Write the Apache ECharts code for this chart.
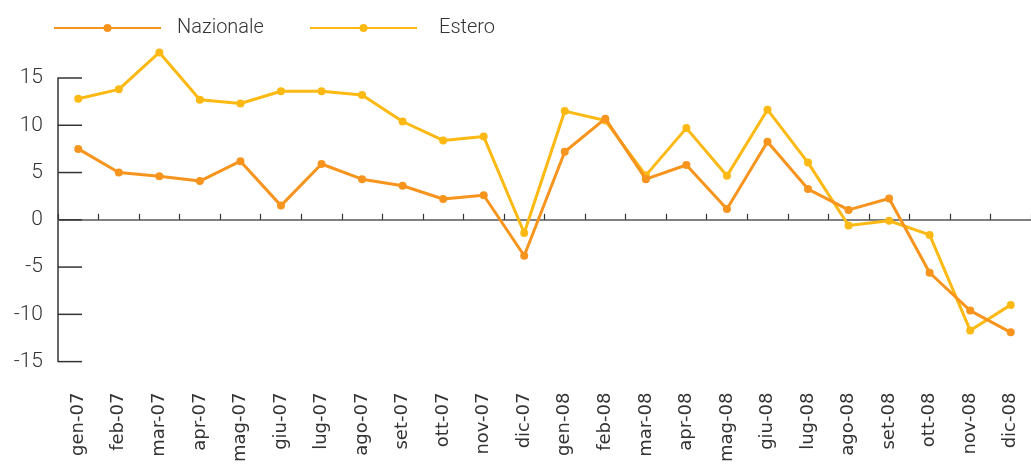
<!DOCTYPE html>
<html>
<head>
<meta charset="utf-8">
<script src="https://cdn.jsdelivr.net/npm/echarts@6/dist/echarts.min.js"></script>
<style>
  html, body { margin: 0; padding: 0; background: #fff; }
  #chart { width: 1031px; height: 465px; }
</style>
</head>
<body>
<div id="chart"></div>
<script>
const months = ['gen-07','feb-07','mar-07','apr-07','mag-07','giu-07','lug-07','ago-07','set-07','ott-07','nov-07','dic-07',
                'gen-08','feb-08','mar-08','apr-08','mag-08','giu-08','lug-08','ago-08','set-08','ott-08','nov-08','dic-08'];
const nazionale = [7.5, 5.0, 4.6, 4.1, 6.2, 1.5, 5.9, 4.3, 3.6, 2.2, 2.6, -3.8,
                   7.2, 10.7, 4.3, 5.8, 1.15, 8.25, 3.25, 1.05, 2.25, -5.6, -9.6, -11.9];
const estero = [12.8, 13.8, 17.7, 12.7, 12.3, 13.6, 13.6, 13.2, 10.4, 8.4, 8.8, -1.4,
                11.5, 10.5, 4.7, 9.7, 4.65, 11.65, 6.05, -0.6, -0.1, -1.6, -11.7, -9.0];
const yTickValues = [-15, -10, -5, 0, 5, 10, 15];

const chart = echarts.init(document.getElementById('chart'));
const orange = '#f7941d';
const yellow = '#fdb913';
const textFont = { fontFamily: 'Roboto', fontWeight: 300, color: '#333' };

const option = {
  animation: false,
  legend: [
    {
      left: 53, top: 18, padding: 0,
      itemWidth: 107, itemHeight: 10,
      data: ['Nazionale'],
      textStyle: Object.assign({ fontSize: 20, padding: [0, 0, 0, 11] }, textFont)
    },
    {
      left: 309, top: 18, padding: 0,
      itemWidth: 107, itemHeight: 10,
      data: ['Estero'],
      textStyle: Object.assign({ fontSize: 20, padding: [0, 0, 0, 17] }, textFont)
    }
  ],
  grid: { left: 58, top: 78, width: 984, height: 286 },
  xAxis: [
    {
      type: 'category',
      data: months,
      position: 'bottom',
      axisLine: { onZero: true, lineStyle: { color: '#808080', width: 2 } },
      axisTick: { show: true, inside: true, length: 6, interval: 0, lineStyle: { color: '#333', width: 1.2 } },
      axisLabel: { show: false }
    },
    {
      // month labels sit under the plot, not on the zero line
      type: 'category',
      data: months,
      position: 'bottom',
      axisLine: { show: false, onZero: false },
      axisTick: { show: false },
      axisLabel: {
        rotate: 90, interval: 0, margin: 31,
        fontFamily: 'DejaVu Sans', fontSize: 18, color: '#333'
      }
    }
  ],
  yAxis: {
    type: 'value',
    position: 'left',
    min: yTickValues[0], max: yTickValues[yTickValues.length - 1], interval: 5,
    axisLine: { show: true, onZero: false, lineStyle: { color: '#333', width: 1.5 } },
    axisTick: { show: false },
    splitLine: { show: false },
    axisLabel: Object.assign({ fontSize: 21, margin: 15 }, textFont)
  },
  series: [
    {
      name: 'Nazionale',
      type: 'line',
      data: nazionale,
      clip: false,
      symbol: 'circle', symbolSize: 8,
      itemStyle: { color: orange },
      lineStyle: { color: orange, width: 3 },
      z: 3
    },
    {
      name: 'Estero',
      type: 'line',
      data: estero,
      clip: false,
      symbol: 'circle', symbolSize: 8,
      itemStyle: { color: yellow },
      lineStyle: { color: yellow, width: 3 },
      z: 2
    },
    {
      // short inner ticks of the y axis, placed by the axes
      type: 'custom',
      silent: true,
      clip: false,
      z: 5,
      encode: { x: 0, y: 1 },
      data: yTickValues.map(v => [0, v]),
      renderItem: function (params, api) {
        const p = api.coord([0, api.value(1)]);
        const q = api.coord([1, api.value(1)]);
        const x0 = p[0] - (q[0] - p[0]) / 2;
        return {
          type: 'line',
          shape: { x1: x0, y1: p[1], x2: x0 + 24, y2: p[1] },
          style: { stroke: '#333', lineWidth: 1.5 }
        };
      }
    }
  ]
};
chart.setOption(option);
</script>
</body>
</html>
